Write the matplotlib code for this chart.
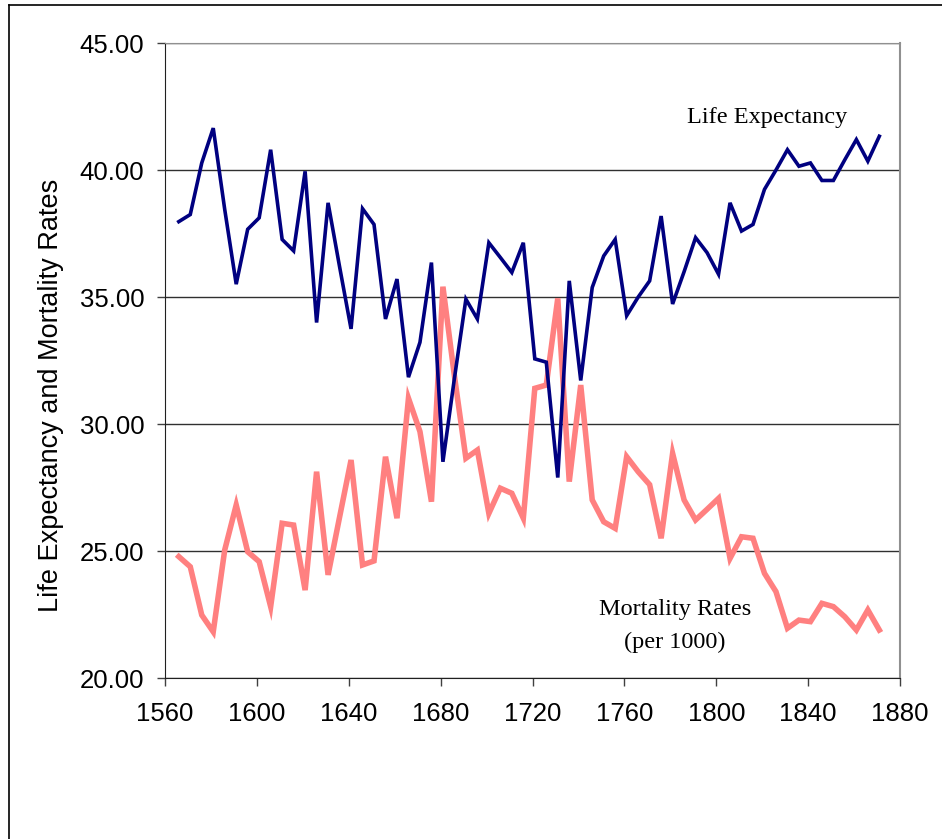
import numpy as np
import matplotlib
matplotlib.use("Agg")
import matplotlib.pyplot as plt
from matplotlib.lines import Line2D

years = np.arange(1566, 1872, 5)

life_exp = [37.97, 38.25, 40.28, 41.65, 38.45, 35.51, 37.67, 38.12, 40.80, 37.27,
            36.82, 39.95, 34.00, 38.71, 36.20, 33.75, 38.48, 37.86, 34.14, 35.71,
            31.85, 33.22, 36.36, 28.52, 31.80, 34.92, 34.14, 37.14, 36.56, 35.97,
            37.14, 32.57, 32.44, 27.90, 35.64, 31.72, 35.38, 36.62, 37.27, 34.27,
            35.00, 35.64, 38.19, 34.73, 36.00, 37.34, 36.75, 35.90, 38.71, 37.60,
            37.86, 39.24, 40.00, 40.80, 40.15, 40.28, 39.59, 39.59, 40.41, 41.20,
            40.35, 41.33]

mortality = [24.79, 24.39, 22.49, 21.83, 25.05, 26.82, 24.98, 24.59, 22.82, 26.10,
             26.03, 23.47, 28.13, 24.07, 26.34, 28.59, 24.46, 24.62, 28.72, 26.30,
             31.02, 29.71, 26.95, 35.41, 31.90, 28.66, 28.98, 26.49, 27.48, 27.28,
             26.30, 31.41, 31.54, 34.95, 27.74, 31.54, 27.02, 26.16, 25.90, 28.72,
             28.13, 27.62, 25.51, 28.85, 27.02, 26.23, 26.65, 27.08, 24.72, 25.57,
             25.51, 24.13, 23.41, 21.97, 22.29, 22.23, 22.95, 22.82, 22.42, 21.90,
             22.69, 21.90]

fig = plt.figure(figsize=(9.42, 8.39), dpi=100)
ax = fig.add_axes([165/942, 1 - 678.3/839, 735/942, 635.3/839])

ax.plot(years, life_exp, color='#000080', lw=2.6, solid_joinstyle='miter', zorder=3)
ax.plot(years, mortality, color='#FF8080', lw=4.0, solid_joinstyle='miter', zorder=2)

ax.set_xlim(1560, 1880)
ax.set_ylim(20, 45)
ax.set_xticks(np.arange(1560, 1881, 40))
ax.set_yticks(np.arange(20, 45.1, 5))
ax.set_yticklabels([f"{v:.2f}" for v in np.arange(20, 45.1, 5)])
ax.yaxis.grid(True, color='#303030', lw=1.0)
ax.set_axisbelow(True)

for lab in ax.get_xticklabels() + ax.get_yticklabels():
    lab.set_family('Liberation Sans')
    lab.set_fontsize(18.5)
ax.tick_params(axis='both', direction='out', length=6, width=1, color='#404040')
ax.tick_params(axis='x', pad=11)
ax.tick_params(axis='y', pad=9)

ax.spines['left'].set_color('#202020')
ax.spines['bottom'].set_color('#202020')
ax.spines['top'].set_color('#909090')
ax.spines['right'].set_color('#909090')
ax.spines['right'].set_linewidth(1.5)

ax.set_ylabel('Life Expectancy and Mortality Rates', family='Liberation Sans', fontsize=19.5)
ax.yaxis.set_label_coords(-0.138, 0.446)

ax.text(1822, 41.85, 'Life Expectancy', family='Liberation Serif', fontsize=17.5,
        ha='center', va='baseline')
ax.text(1782, 22.49, 'Mortality Rates', family='Liberation Serif', fontsize=17.5,
        ha='center', va='baseline')
ax.text(1782, 21.19, '(per 1000)', family='Liberation Serif', fontsize=17.5,
        ha='center', va='baseline')

# outer frame (left and top only visible)
fig.add_artist(Line2D([9/942, 9/942], [0, 1 - 5/839], color='black', lw=1.2,
                      transform=fig.transFigure))
fig.add_artist(Line2D([9/942, 1], [1 - 5/839, 1 - 5/839], color='black', lw=1.2,
                      transform=fig.transFigure))

fig.savefig('out.png', dpi=100)
